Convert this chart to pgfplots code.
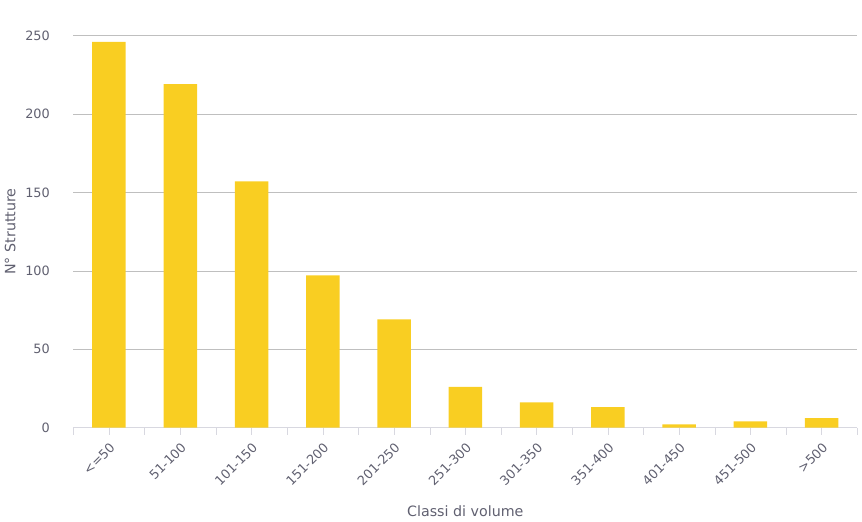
\documentclass[border=0pt]{standalone}
\usepackage{pgfplots}
\pgfplotsset{compat=1.18}
\usepackage{fontspec}
\setmainfont{DejaVu Sans}
\definecolor{bar}{HTML}{F9CE22}
\definecolor{grid}{HTML}{D8D8E0}
\definecolor{txt}{HTML}{606070}
\begin{document}
\begin{tikzpicture}
\path (0,300pt) -- (0,290pt);
\begin{axis}[
  x=50pt, y=1.1pt,
  ymin=0, ymax=250, xmin=-0.5, xmax=10.5,
  ybar, bar width=23.5pt,
  xtick={-0.5,0.5,...,10.5}, xticklabels={},
  xtick style={draw=grid}, major tick length=5pt, tick align=outside,
  extra x ticks={0,1,...,10},
  extra x tick labels={<=50,51-100,101-150,151-200,201-250,251-300,301-350,351-400,401-450,451-500,>500},
  extra x tick style={tick style={draw=none}, xticklabel style={rotate=45, anchor=north east, font=\small, color=txt}},
  xmajorgrids=false,
  ytick={0,50,100,150,200,250},
  y tick label style={font=\small, color=txt, xshift=-8pt},
  /pgf/number format/assume math mode=true,
  ymajorgrids, grid style={grid},
  axis x line*=bottom, axis y line*=left,
  y axis line style={draw=none}, ytick style={draw=none},
  x axis line style={grid},
  xlabel={Classi di volume}, ylabel={N° Strutture},
  xlabel style={color=txt}, ylabel style={color=txt},
]
\addplot[fill=bar, draw=none] coordinates {(0,246)(1,219)(2,157)(3,97)(4,69)(5,26)(6,16)(7,13)(8,2)(9,4)(10,6)};
\end{axis}
\end{tikzpicture}
\end{document}
